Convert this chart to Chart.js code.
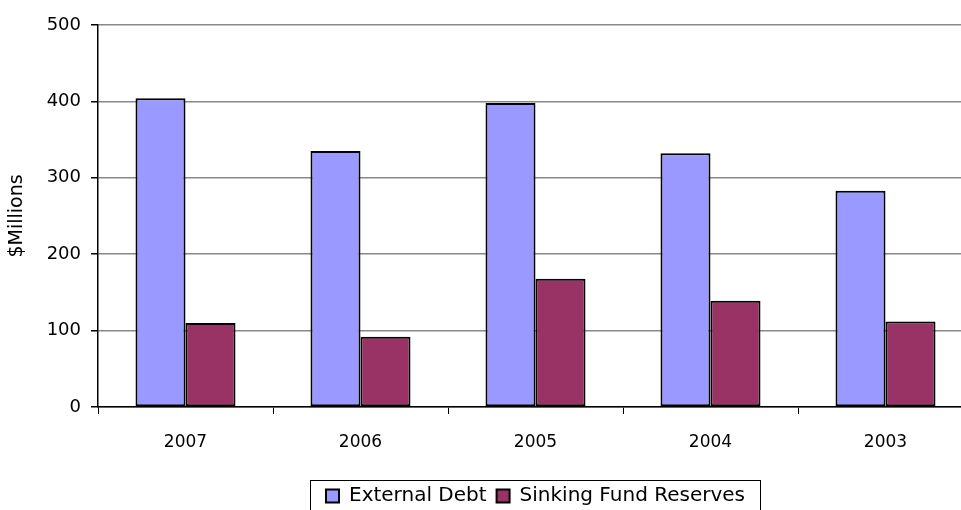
<!DOCTYPE html>
<html>
<head>
<meta charset="utf-8">
<script src="https://cdn.jsdelivr.net/npm/chart.js@4/dist/chart.umd.min.js"></script>
<style>
	html, body { margin: 0; padding: 0; background: #fff; overflow: hidden; }
	canvas { display: block; }
</style>
</head>
<body>
<canvas id="chart" width="975" height="516"></canvas>
<script>
// values ($ millions)
const years = ["2007", "2006", "2005", "2004", "2003"];
const externalDebt = [404, 335, 398, 332, 283];
const sinkingFund = [110, 92, 168, 139, 112];
const yTicks = [0, 100, 200, 300, 400, 500];

const fontFamily = "'DejaVu Sans', sans-serif";

// box round the legend, like the original
const legendBorder = {
	id: "legendBorder",
	afterDraw(chart) {
		let lg = chart.legend;
		let ctx = chart.ctx;
		ctx.save();
		ctx.strokeStyle = "#000";
		ctx.lineWidth = 1;
		ctx.strokeRect(310.5, lg.top + 4.5, 450, 40);
		ctx.restore();
	}
};

let ctx = document.getElementById("chart").getContext("2d");
let chart = new Chart(ctx, {
	type: "bar",
	data: {
		labels: years,
		datasets: [
			{
				label: "External Debt",
				data: externalDebt,
				backgroundColor: "#9999FF",
				borderColor: "#000",
				borderWidth: 2,
				borderSkipped: false
			},
			{
				label: "Sinking Fund Reserves",
				data: sinkingFund,
				backgroundColor: "#993366",
				borderColor: "#000",
				borderWidth: 2,
				borderSkipped: false
			}
		]
	},
	plugins: [legendBorder],
	options: {
		responsive: false,
		animation: false,
		devicePixelRatio: 1,
		categoryPercentage: 100 / 175,
		barPercentage: 1,
		layout: { padding: { top: 25, left: 0, right: 2, bottom: 0 } },
		plugins: {
			tooltip: { enabled: false },
			legend: {
				position: "bottom",
				fullSize: false,
				labels: {
					color: "#000",
					font: { family: fontFamily, size: 20 },
					boxWidth: 13,
					boxHeight: 13,
					padding: 10,
					useBorderRadius: false
				}
			}
		},
		scales: {
			x: {
				grid: {
					drawOnChartArea: false,
					tickLength: 7,
					tickColor: "#000",
					offset: true
				},
				border: { color: "#000", width: 1.5 },
				ticks: {
					color: "#000",
					font: { family: fontFamily, size: 17 },
					padding: 18
				},
				afterFit(scale) { scale.height = 69; }
			},
			y: {
				min: 0,
				max: 500,
				afterBuildTicks(scale) {
					scale.ticks = yTicks.map(v => ({ value: v }));
				},
				grid: {
					color: "#888",
					lineWidth: 1.5,
					tickLength: 7,
					tickColor: "#000"
				},
				border: { color: "#000", width: 1.5 },
				ticks: {
					color: "#000",
					font: { family: fontFamily, size: 18 },
					padding: 10
				},
				title: {
					display: true,
					text: "$Millions",
					color: "#000",
					font: { family: fontFamily, size: 19 },
					padding: 6
				},
				afterFit(scale) { scale.width = 98; }
			}
		}
	}
});
</script>
</body>
</html>
